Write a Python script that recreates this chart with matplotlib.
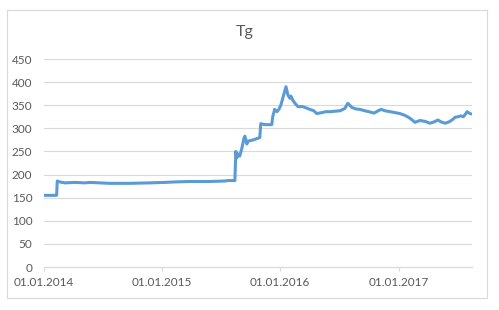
import matplotlib
matplotlib.use("Agg")
import matplotlib.pyplot as plt
import matplotlib.dates as mdates
from matplotlib.patches import Rectangle
import pandas as pd

title = "Tg"
dates = [
    "2014-01-01", "2014-02-09", "2014-02-11", "2014-02-19", "2014-03-06", "2014-04-06",
    "2014-05-07", "2014-05-22", "2014-06-22", "2014-07-23", "2014-09-23", "2014-11-24",
    "2015-01-09", "2015-02-09", "2015-03-28", "2015-05-28", "2015-07-14", "2015-07-23",
    "2015-08-14", "2015-08-17", "2015-08-20", "2015-08-23", "2015-08-29", "2015-09-04",
    "2015-09-11", "2015-09-14", "2015-09-17", "2015-09-20", "2015-09-23", "2015-10-05",
    "2015-10-18", "2015-10-30", "2015-11-02", "2015-11-15", "2015-12-06", "2015-12-09",
    "2015-12-15", "2015-12-22", "2015-12-28", "2016-01-03", "2016-01-09", "2016-01-19",
    "2016-01-25", "2016-01-31", "2016-02-03", "2016-02-09", "2016-02-16", "2016-02-25",
    "2016-03-11", "2016-04-02", "2016-04-14", "2016-04-23", "2016-05-09", "2016-05-21",
    "2016-06-03", "2016-06-18", "2016-07-04", "2016-07-19", "2016-07-28", "2016-08-03",
    "2016-08-10", "2016-08-22", "2016-09-03", "2016-09-19", "2016-10-01", "2016-10-17",
    "2016-10-30", "2016-11-08", "2016-11-20", "2016-12-06", "2016-12-21", "2017-01-05",
    "2017-01-21", "2017-02-05", "2017-02-21", "2017-03-08", "2017-03-24", "2017-04-08",
    "2017-04-21", "2017-05-03", "2017-05-12", "2017-05-25", "2017-06-06", "2017-06-15",
    "2017-06-25", "2017-07-04", "2017-07-13", "2017-07-20", "2017-07-26", "2017-08-01",
    "2017-08-07", "2017-08-13",
]
values = [
    155, 155, 186, 184, 182, 183,
    182, 183, 182, 181, 181, 182,
    183, 184, 185, 185, 186, 187,
    187, 250, 236, 245, 240, 255,
    278, 283, 275, 266, 272, 274,
    277, 280, 310, 308, 308, 325,
    341, 336, 341, 350, 365, 390,
    372, 365, 370, 361, 354, 347,
    347, 341, 338, 332, 334, 336,
    336, 337, 338, 343, 354, 350,
    345, 342, 341, 338, 336, 333,
    338, 341, 338, 336, 334, 332,
    328, 322, 313, 317, 315, 311,
    314, 318, 314, 311, 314, 318,
    324, 325, 327, 325, 330, 336,
    333, 331,
]
x_ticks = ["2014-01-01", "2015-01-01", "2016-01-01", "2017-01-01"]
y_ticks = [0, 50, 100, 150, 200, 250, 300, 350, 400, 450]

font = ["Lato", "DejaVu Sans"]
txt = "#595959"
grid = "#d9d9d9"

fig = plt.figure(figsize=(4.99, 3.10), dpi=100)
fig.patches.append(Rectangle((7 / 499, 1 - 298 / 310), 480 / 499, 288 / 310,
                             transform=fig.transFigure, fill=False,
                             edgecolor=grid, linewidth=0.8))
ax = fig.add_axes([44 / 499, 1 - 267 / 310, 428 / 499, 208 / 310])

ax.plot(pd.to_datetime(dates), values, color="#5B9BD5", linewidth=2.2,
        solid_joinstyle="round", solid_capstyle="round")

ax.set_ylim(0, 450)
ax.set_yticks(y_ticks)
ax.set_xlim(pd.Timestamp("2014-01-01"), pd.Timestamp("2017-08-16"))
ax.set_xticks(pd.to_datetime(x_ticks))
ax.xaxis.set_major_formatter(mdates.DateFormatter("%d.%m.%Y"))

ax.grid(axis="y", color=grid, linewidth=0.8)
ax.set_axisbelow(True)
for s in ["top", "right", "left"]:
    ax.spines[s].set_visible(False)
ax.spines["bottom"].set_color(grid)
ax.spines["bottom"].set_linewidth(0.8)

ax.tick_params(axis="y", length=0, pad=8.5, labelcolor=txt, labelsize=8.5)
ax.tick_params(axis="x", length=3, width=0.8, color=grid, pad=4.5,
               labelcolor=txt, labelsize=8.5)
for lab in ax.get_xticklabels() + ax.get_yticklabels():
    lab.set_family(font)

fig.text(245 / 499, 1 - 32 / 310, title, ha="center", va="center",
         fontsize=11.5, color=txt, family=font)

fig.savefig("out.png", dpi=100)
